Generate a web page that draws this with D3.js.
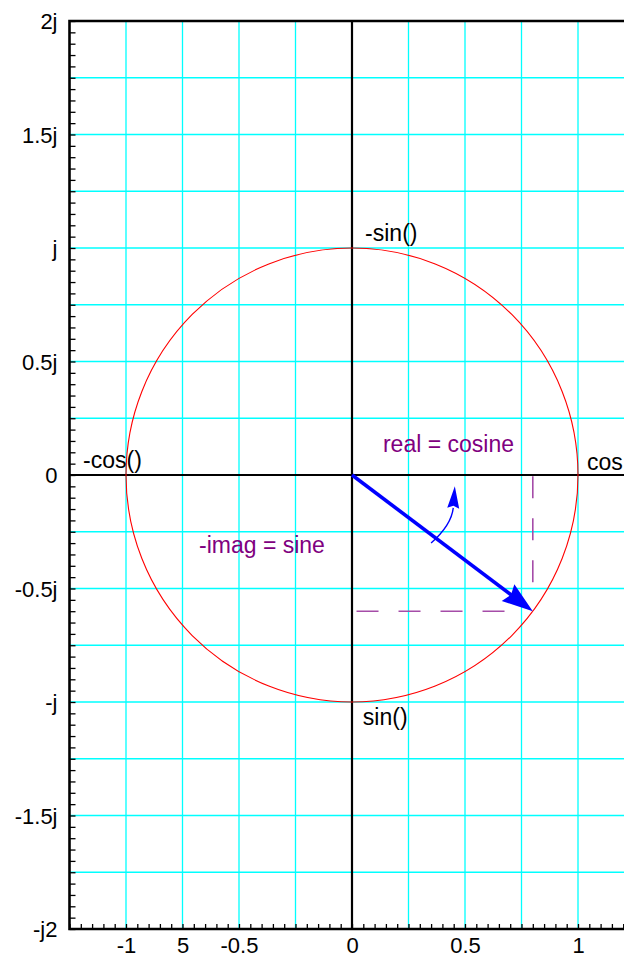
<!DOCTYPE html>
<html>
<head>
<meta charset="utf-8">
<script src="https://cdn.jsdelivr.net/npm/d3@7"></script>
<style>
  html, body { margin: 0; padding: 0; background: #fff; overflow: hidden; }
  svg { display: block; font-family: "Liberation Sans", Arial, Helvetica, sans-serif; }
</style>
</head>
<body>
<svg id="chart" width="624" height="959"></svg>
<script>
// Complex plane: unit circle with a phasor and its projections
const xTickValues = [-1, -0.75, -0.5, 0, 0.5, 1];
const xTickLabels = ["-1", "5", "-0.5", "0", "0.5", "1"];
const yTickValues = [2, 1.5, 1, 0.5, 0, -0.5, -1, -1.5, -2];
const yTickLabels = ["2j", "1.5j", "j", "0.5j", "0", "-0.5j", "-j", "-1.5j", "-j2"];
const xGrid = [-1, -0.75, -0.5, -0.25, 0.25, 0.5, 0.75, 1];
const yGrid = [1.75, 1.5, 1.25, 1, 0.75, 0.5, 0.25, -0.25, -0.5, -0.75, -1, -1.25, -1.5, -1.75];
const minorStep = 0.05;

const circleRadius = 1;
const phasorTip = [0.8, -0.6];                       // cos = 0.8, -sin = -0.6
const realProjection = [[0.8, -0.005], [0.8, -0.49]];
const imagProjection = [[0.02, -0.6], [0.69, -0.6]];
const rotationCurve = [[0.35, -0.30], [0.44, -0.22], [0.448, -0.145]];
const rotationTip = [0.455, -0.05];

const axisNotes = [
  { text: "-sin()", x: 0.058, y: 1.03 },
  { text: "sin()", x: 0.048, y: -1.1 },
  { text: "-cos()", x: -1.19, y: 0.03 },
  { text: "cos", x: 1.04, y: 0.022 }
];
const purpleNotes = [
  { text: "real = cosine", x: 0.137, y: 0.10 },
  { text: "-imag = sine", x: -0.677, y: -0.344 }
];

const svg = d3.select("#chart");
const x = d3.scaleLinear().domain([-1.25, 1.25]).range([69.5, 634.5]);
const y = d3.scaleLinear().domain([-2, 2]).range([929, 21]);
const plotLeft = x(-1.25), plotRight = 624, plotTop = y(2), plotBottom = y(-2);
const tickFont = 22, noteFont = 23;

// grid
svg.append("g").selectAll("line").data(xGrid).join("line")
  .attr("x1", d => x(d)).attr("x2", d => x(d))
  .attr("y1", plotTop).attr("y2", plotBottom)
  .attr("stroke", "#00ffff").attr("stroke-width", 1.3);
svg.append("g").selectAll("line").data(yGrid).join("line")
  .attr("x1", plotLeft).attr("x2", plotRight)
  .attr("y1", d => y(d)).attr("y2", d => y(d))
  .attr("stroke", "#00ffff").attr("stroke-width", 1.3);

// minor ticks on bottom and left axes
const xMinor = d3.range(-1.25, 1.26, minorStep).map(v => +v.toFixed(2));
const yMinor = d3.range(-2, 2.001, minorStep).map(v => +v.toFixed(2));
const bottomAxis = svg.append("g").attr("transform", `translate(0,${plotBottom})`)
  .call(d3.axisBottom(x).tickValues(xMinor).tickSize(-5).tickFormat(""));
const leftAxis = svg.append("g").attr("transform", `translate(${plotLeft},0)`)
  .call(d3.axisLeft(y).tickValues(yMinor).tickSize(-6).tickFormat(""));
[bottomAxis, leftAxis].forEach(g => {
  g.select(".domain").remove();
  g.selectAll(".tick line").attr("stroke", "#000").attr("stroke-width", 1.3);
});

// tick labels
const xLab = svg.append("g").attr("transform", `translate(0,${plotBottom})`)
  .call(d3.axisBottom(x).tickValues(xTickValues).tickSize(0)
    .tickFormat((d, i) => xTickLabels[i]));
xLab.select(".domain").remove();
xLab.attr("font-size", tickFont).attr("font-family", null);
xLab.selectAll("text").attr("fill", "#000").attr("y", 24).attr("dy", null);

const yLab = svg.append("g").attr("transform", `translate(${plotLeft},0)`)
  .call(d3.axisLeft(y).tickValues(yTickValues).tickSize(0)
    .tickFormat((d, i) => yTickLabels[i]));
yLab.select(".domain").remove();
yLab.attr("font-size", tickFont).attr("font-family", null);
yLab.selectAll("text").attr("fill", "#000").attr("x", -12).attr("dy", "0.36em");

// frame
svg.append("path")
  .attr("d", `M${plotRight},${plotTop}H${plotLeft}V${plotBottom}H${plotRight}`)
  .attr("fill", "none").attr("stroke", "#000").attr("stroke-width", 2.6);

// real and imaginary axes
svg.append("line").attr("x1", x(0)).attr("x2", x(0)).attr("y1", plotTop).attr("y2", plotBottom)
  .attr("stroke", "#000").attr("stroke-width", 2.2);
svg.append("line").attr("x1", plotLeft).attr("x2", plotRight).attr("y1", y(0)).attr("y2", y(0))
  .attr("stroke", "#000").attr("stroke-width", 2.2);

// unit circle
svg.append("ellipse")
  .attr("cx", x(0)).attr("cy", y(0))
  .attr("rx", x(circleRadius) - x(0)).attr("ry", y(0) - y(circleRadius))
  .attr("fill", "none").attr("stroke", "#ff0000").attr("stroke-width", 1.1);

// projections of the phasor
const line = d3.line().x(d => x(d[0])).y(d => y(d[1]));
[realProjection, imagProjection].forEach(seg => {
  svg.append("path").attr("d", line(seg))
    .attr("fill", "none").attr("stroke", "#a54ca8").attr("stroke-width", 1.6)
    .attr("stroke-dasharray", "22,20");
});

// arrowhead helper (pixel-space triangle at the tip)
function arrowHead(tipPx, fromPx, len, half) {
  const dx = tipPx[0] - fromPx[0], dy = tipPx[1] - fromPx[1];
  const L = Math.hypot(dx, dy), ux = dx / L, uy = dy / L;
  const bx = tipPx[0] - ux * len, by = tipPx[1] - uy * len;
  return `M${tipPx[0]},${tipPx[1]}L${bx - uy * half},${by + ux * half}` +
         `L${bx + ux * len * 0.12},${by + uy * len * 0.12}L${bx + uy * half},${by - ux * half}Z`;
}

// phasor
const p0 = [x(0), y(0)], p1 = [x(phasorTip[0]), y(phasorTip[1])];
{
  const dx = p1[0] - p0[0], dy = p1[1] - p0[1], L = Math.hypot(dx, dy);
  const shaft = [p1[0] - dx / L * 24, p1[1] - dy / L * 24];
  svg.append("line").attr("x1", p0[0]).attr("y1", p0[1]).attr("x2", shaft[0]).attr("y2", shaft[1])
    .attr("stroke", "#0000ff").attr("stroke-width", 3.6);
  svg.append("path").attr("d", arrowHead(p1, p0, 31, 10.5)).attr("fill", "#0000ff");
}

// rotation direction
{
  const c = rotationCurve.map(d => [x(d[0]), y(d[1])]);
  const path = d3.path();
  path.moveTo(c[0][0], c[0][1]);
  path.quadraticCurveTo(c[1][0], c[1][1], c[2][0], c[2][1]);
  svg.append("path").attr("d", path.toString())
    .attr("fill", "none").attr("stroke", "#0000ff").attr("stroke-width", 1.4);
  const t = [x(rotationTip[0]), y(rotationTip[1])];
  svg.append("path").attr("d", arrowHead(t, c[2], 22, 6)).attr("fill", "#0000ff");
}

// annotations
svg.append("g").selectAll("text").data(axisNotes).join("text")
  .attr("x", d => x(d.x)).attr("y", d => y(d.y))
  .attr("font-size", noteFont).attr("fill", "#000").text(d => d.text);
svg.append("g").selectAll("text").data(purpleNotes).join("text")
  .attr("x", d => x(d.x)).attr("y", d => y(d.y))
  .attr("font-size", noteFont).attr("fill", "#800080").text(d => d.text);
</script>
</body>
</html>
